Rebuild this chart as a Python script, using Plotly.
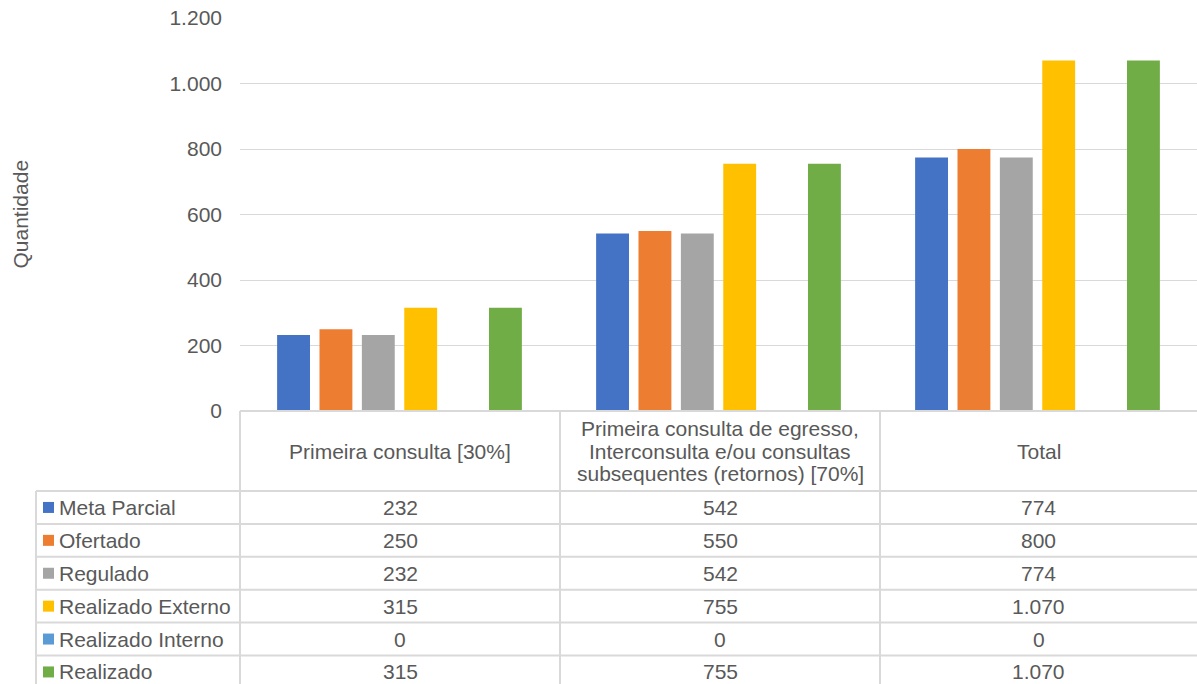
import plotly.graph_objects as go

W, H = 1197, 684

categories = ["Primeira consulta [30%]",
              "Primeira consulta de egresso,<br>Interconsulta e/ou consultas<br>subsequentes (retornos) [70%]",
              "Total"]
series_names = ["Meta Parcial", "Ofertado", "Regulado", "Realizado Externo",
                "Realizado Interno", "Realizado"]
meta_parcial = [232, 542, 774]
ofertado = [250, 550, 800]
regulado = [232, 542, 774]
realizado_externo = [315, 755, 1070]
realizado_interno = [0, 0, 0]
realizado = [315, 755, 1070]
y_ticks = [0, 200, 400, 600, 800, 1000, 1200]

series_values = [meta_parcial, ofertado, regulado, realizado_externo,
                 realizado_interno, realizado]
colors = ["#4472C4", "#ED7D31", "#A5A5A5", "#FFC000", "#5B9BD5", "#70AD47"]

FONT = "Liberation Sans, Arial, sans-serif"
TXT = "#595959"
LINE = "#d9d9d9"

# pixel layout
plot_left, plot_top, plot_bottom = 240, 18, 411
header_bottom = 491
row_h = 32.9
col_edges = [240, 560, 880, 1197]
table_left = 36
line_gap = 22.7


def px(x):
    return x / W


def py(y):
    return 1 - y / H


def fmt(v):
    return f"{v:,}".replace(",", ".")


fig = go.Figure()
for name, vals, c in zip(series_names, series_values, colors):
    fig.add_trace(go.Bar(x=list(range(len(categories))), y=vals, name=name,
                         marker=dict(color=c, line=dict(width=0)),
                         hoverinfo="y+name"))

shapes = []
annotations = []


def hline(y, x0, x1):
    shapes.append(dict(type="line", xref="paper", yref="paper",
                       x0=px(x0), x1=px(x1), y0=py(y), y1=py(y),
                       line=dict(color=LINE, width=2)))


def vline(x, y0, y1):
    shapes.append(dict(type="line", xref="paper", yref="paper",
                       x0=px(x), x1=px(x), y0=py(y0), y1=py(y1),
                       line=dict(color=LINE, width=2)))


hline(plot_bottom, plot_left, W)
for i in range(len(series_names)):
    hline(header_bottom + i * row_h, table_left, W)
for x in col_edges[:-1]:
    vline(x, plot_bottom, H)
vline(table_left, header_bottom, H)

# header labels (one annotation per text line for tight line spacing)
head_cy = (plot_bottom + header_bottom) / 2
for i, cat in enumerate(categories):
    cx = (col_edges[i] + col_edges[i + 1]) / 2
    lines = cat.split("<br>")
    n = len(lines)
    for k, ln in enumerate(lines):
        ly = head_cy + (k - (n - 1) / 2) * line_gap
        annotations.append(dict(text=ln, xref="paper", yref="paper",
                                x=px(cx), y=py(ly),
                                showarrow=False, xanchor="center",
                                yanchor="middle",
                                font=dict(family=FONT, size=21, color=TXT)))

# rows
for r, (name, vals, c) in enumerate(zip(series_names, series_values, colors)):
    cy = header_bottom + r * row_h + row_h / 2
    shapes.append(dict(type="rect", xref="paper", yref="paper",
                       x0=px(43), x1=px(54), y0=py(cy - 5.5), y1=py(cy + 5.5),
                       fillcolor=c, line=dict(width=0)))
    annotations.append(dict(text=name, xref="paper", yref="paper",
                            x=px(57), y=py(cy), showarrow=False,
                            xanchor="left", yanchor="middle",
                            font=dict(family=FONT, size=21, color=TXT)))
    for i, v in enumerate(vals):
        cx = (col_edges[i] + col_edges[i + 1]) / 2
        annotations.append(dict(text=fmt(v), xref="paper", yref="paper",
                                x=px(cx), y=py(cy), showarrow=False,
                                xanchor="center", yanchor="middle",
                                font=dict(family=FONT, size=21, color=TXT)))

# y axis title
annotations.append(dict(text="Quantidade", xref="paper", yref="paper",
                        x=px(20), y=py((plot_top + plot_bottom) / 2),
                        showarrow=False, textangle=-90,
                        xanchor="center", yanchor="middle",
                        font=dict(family=FONT, size=21, color=TXT)))

fig.update_layout(
    template="none",
    width=W, height=H,
    margin=dict(l=0, r=0, t=0, b=0, pad=0),
    paper_bgcolor="white", plot_bgcolor="white",
    barmode="group", bargap=0.203, bargroupgap=0.224,
    showlegend=False,
    separators=",.",
    font=dict(family=FONT, size=21, color=TXT),
    xaxis=dict(domain=[px(plot_left), 1], range=[-0.5, 2.5],
               showticklabels=False, showgrid=False, zeroline=False,
               showline=False, fixedrange=True, automargin=False),
    yaxis=dict(domain=[py(plot_bottom), py(plot_top)], range=[0, 1200],
               tickvals=y_ticks, ticktext=[fmt(t) for t in y_ticks],
               showgrid=True, gridcolor=LINE, gridwidth=1,
               zeroline=False, showline=False, ticks="",
               ticklabelstandoff=17, automargin=False,
               tickfont=dict(family=FONT, size=21, color=TXT)),
    shapes=shapes, annotations=annotations,
)

fig.write_html("out.html", config={"displayModeBar": False},
               post_script="document.body.style.margin='0';document.body.style.padding='0';")
